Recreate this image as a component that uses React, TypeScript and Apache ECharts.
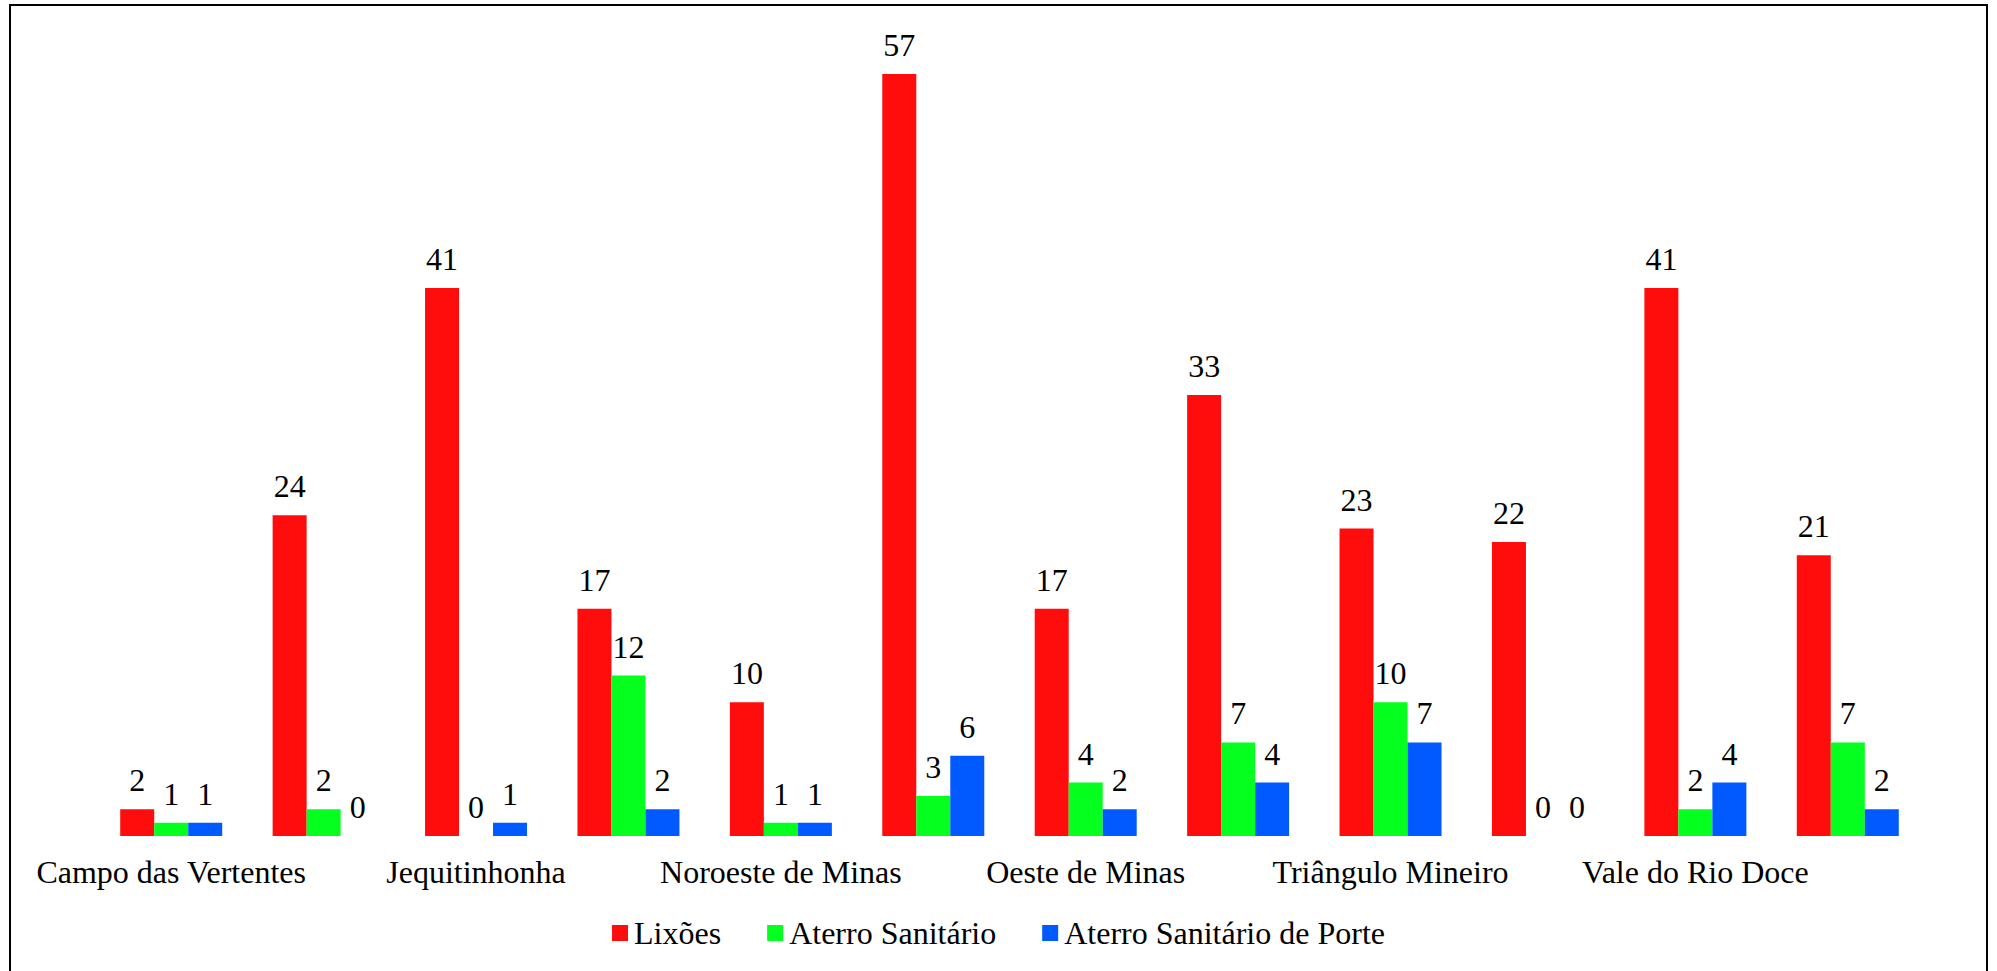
import React, { useEffect, useRef } from "react";
import * as echarts from "echarts";

const categories = [
  "Campo das Vertentes",
  "Central Mineira",
  "Jequitinhonha",
  "Metropolitana de Belo Horizonte",
  "Noroeste de Minas",
  "Norte de Minas",
  "Oeste de Minas",
  "Sul/Sudoeste de Minas",
  "Triângulo Mineiro",
  "Vale do Mucuri",
  "Vale do Rio Doce",
  "Zona da Mata",
];
const seriesNames = ["Lixões", "Aterro Sanitário", "Aterro Sanitário de Porte"];
const lixoes = [2, 24, 41, 17, 10, 57, 17, 33, 23, 22, 41, 21];
const aterro = [1, 2, 0, 12, 1, 3, 4, 7, 10, 0, 2, 7];
const aterroPorte = [1, 0, 1, 2, 1, 6, 2, 4, 7, 0, 4, 2];
const colors = ["#FF0D0D", "#05FF1E", "#005AFF"];

const FONT = "Liberation Serif";

export default function App() {
  const ref = useRef<HTMLDivElement>(null);
  useEffect(() => {
    if (!ref.current) return;
    const chart = echarts.init(ref.current, undefined, { renderer: "svg" });
    const values = [lixoes, aterro, aterroPorte];
    chart.setOption({
      animation: false,
      backgroundColor: "#fff",
      textStyle: { fontFamily: FONT },
      grid: { left: 95, right: 73, top: 34, bottom: 135, containLabel: false },
      legend: {
        data: seriesNames,
        left: "center",
        top: 912,
        icon: "rect",
        itemWidth: 16,
        itemHeight: 16,
        itemGap: 46,
        textStyle: { color: "#000", fontFamily: FONT, fontSize: 32, padding: [0, 0, 0, 1] },
      },
      xAxis: {
        type: "category",
        data: categories,
        axisLine: { show: false },
        axisTick: { show: false },
        axisLabel: {
          interval: 1,
          color: "#000",
          fontFamily: FONT,
          fontSize: 32,
          margin: 20,
        },
      },
      yAxis: {
        type: "value",
        min: 0,
        max: 60,
        show: false,
        splitLine: { show: false },
      },
      series: seriesNames.map((name, i) => ({
        name,
        type: "bar",
        data: values[i],
        barWidth: 34,
        barGap: "0%",
        itemStyle: { color: colors[i] },
        label: {
          show: true,
          position: "top",
          distance: 13,
          color: "#000",
          fontFamily: FONT,
          fontSize: 32,
        },
      })),
      graphic: [
        {
          type: "rect",
          shape: { x: 10, y: 5, width: 1977, height: 1000 },
          style: { fill: "none", stroke: "#000", lineWidth: 2 },
          silent: true,
        },
      ],
    });
    return () => chart.dispose();
  }, []);
  return (
    <div
      ref={ref}
      style={{ position: "fixed", left: 0, top: 0, width: 1997, height: 971 }}
    />
  );
}
